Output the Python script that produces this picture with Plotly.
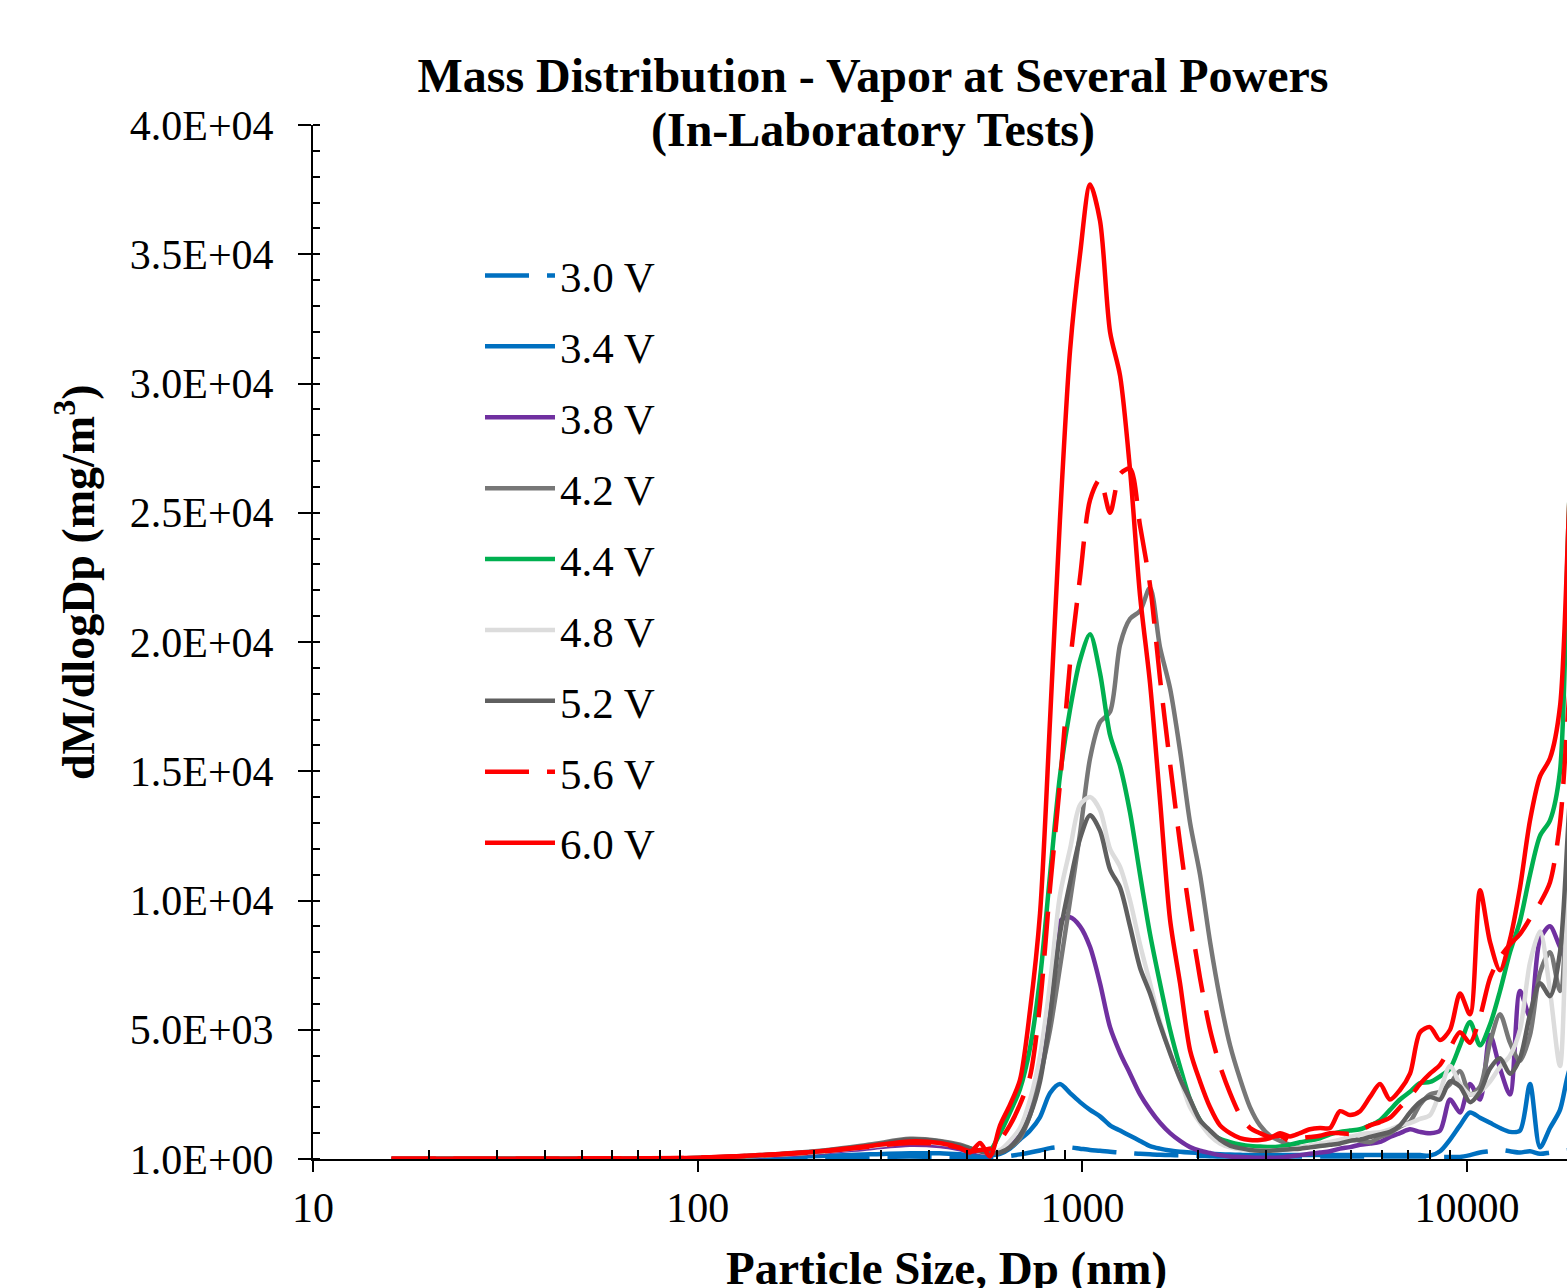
import plotly.graph_objects as go

# Particle diameter grid (nm)
diameter_nm = [16, 22.7, 34.5, 55.7, 100, 145, 208, 280, 356, 426, 481, 510, 542, 575,
               611, 648, 688, 731, 776, 824, 874, 929, 986, 1047,
               1111, 1180, 1253, 1330, 1412, 1499, 1591, 1690, 1794, 1905,
               2022, 2147, 2279, 2420, 2569, 2728, 2896, 3075, 3266, 3464,
               3678, 3905, 4146, 4401, 4673, 4961, 5268, 5593, 5937, 6304,
               6692, 7105, 7544, 8009, 8503, 9028, 9585, 10176, 10803, 11470,
               12177, 12928, 13725, 14572, 15470, 16424, 17437, 18512, 19655]

v30 = [2, 3, 5, 8, 15, 40, 60, 80, 100, 80, 60, 50, 40, 50,
       80, 120, 180, 250, 330, 420, 460, 450, 400, 350,
       320, 280, 250, 230, 200, 180, 160, 150, 140, 130,
       120, 110, 100, 100, 100, 100, 100, 100, 100, 100,
       100, 100, 100, 100, 100, 100, 100, 100, 100, 100,
       100, 100, 100, 90, 80, 80, 80, 150, 250, 300,
       350, 300, 250, 300, 200, 250, 300, 350, 400]

v34 = [2, 3, 5, 10, 20, 60, 120, 180, 220, 220, 180, 150, 130, 140,
       200, 400, 750, 1100, 1620, 2550, 2900, 2550, 2200, 1900,
       1650, 1300, 1100, 900, 700, 500, 400, 330, 280, 250,
       230, 200, 180, 170, 160, 150, 150, 150, 150, 150,
       150, 150, 150, 150, 150, 150, 150, 150, 150, 150,
       150, 150, 150, 130, 300, 750, 1300, 1800, 1600, 1400,
       1200, 1050, 1100, 2900, 450, 1200, 1900, 3500, 4000]

v38 = [3, 5, 8, 15, 30, 110, 240, 420, 550, 500, 380, 300, 250, 220,
       300, 500, 1000, 2000, 3700, 6000, 9200, 9350, 9000, 8200,
       6800, 5100, 4100, 3300, 2500, 1900, 1400, 1000, 700, 460,
       320, 230, 150, 100, 80, 60, 50, 50, 60, 100,
       150, 200, 250, 300, 400, 460, 550, 600, 660, 850,
       1000, 1150, 1050, 1000, 1100, 2300, 1800, 2900, 2300, 4800,
       3500, 2500, 6500, 5500, 8500, 9000, 8200, 7500, 7500]

v42 = [3, 5, 8, 15, 40, 150, 320, 560, 780, 700, 550, 420, 320, 260,
       300, 450, 800, 1700, 3200, 5000, 7400, 10000, 12600, 15500,
       16900, 17300, 19900, 20900, 21200, 22100, 19800, 18200, 15800, 13000,
       11000, 8400, 6200, 4400, 3100, 2000, 1300, 900, 700, 550,
       460, 500, 550, 620, 700, 850, 700, 650, 850, 1000,
       1250, 1450, 2100, 2500, 2600, 2900, 3400, 2500, 2800, 4500,
       5600, 4500, 3800, 4800, 7200, 8000, 6500, 12000, 15000]

v44 = [3, 5, 8, 15, 40, 130, 280, 500, 650, 620, 500, 400, 330, 330,
       1000, 1800, 2700, 4300, 7000, 11000, 14800, 17400, 19300, 20300,
       18800, 16400, 15200, 13400, 11000, 8700, 6800, 5000, 3560, 2300,
       1500, 1000, 780, 650, 560, 500, 480, 460, 480, 550,
       650, 720, 800, 950, 1050, 1100, 1150, 1300, 1500, 1900,
       2300, 2600, 2940, 2980, 3200, 3500, 4400, 5300, 4400, 5200,
       6500, 8000, 9200, 11000, 12500, 13100, 15000, 26000, 30000]

v48 = [3, 5, 8, 15, 40, 130, 280, 480, 650, 600, 480, 380, 280, 230,
       350, 700, 1200, 2300, 4000, 6800, 10200, 12000, 13700, 14000,
       13500, 12000, 11300, 10000, 8300, 6800, 5300, 4100, 3100, 2000,
       1400, 900, 600, 450, 380, 350, 330, 330, 350, 380,
       450, 520, 600, 660, 750, 850, 950, 1000, 1040, 1150,
       1300, 1390, 1550, 1700, 2600, 3600, 2900, 2500, 2600, 3000,
       3560, 4000, 5000, 7600, 8800, 6500, 3600, 12000, 14000]

v52 = [3, 5, 8, 15, 40, 140, 300, 520, 750, 680, 520, 400, 300, 230,
       250, 450, 900, 1700, 3000, 5500, 8700, 10700, 12400, 13300,
       12700, 11200, 10500, 9000, 7400, 6400, 5200, 4100, 3100, 2300,
       1500, 1100, 750, 520, 420, 350, 320, 320, 350, 380,
       400, 450, 500, 550, 600, 700, 750, 850, 950, 1050,
       1300, 1800, 2200, 2400, 2300, 3000, 2800, 2200, 2600, 3500,
       3900, 3300, 3900, 5600, 6800, 6300, 8000, 14000, 18000]

v56 = [5, 8, 10, 20, 50, 140, 280, 480, 620, 580, 420, 300, 350, 400,
       735, 1300, 2100, 3200, 6000, 10500, 14500, 19200, 22500, 25500,
       26300, 25000, 26500, 26700, 24500, 22200, 18600, 15300, 12200, 9400,
       7000, 5000, 3600, 2550, 1700, 1200, 1000, 850, 900, 700,
       800, 850, 900, 1000, 1000, 970, 1100, 1300, 1430, 1600,
       2000, 2400, 2900, 3300, 3640, 4300, 4900, 4500, 5500, 7000,
       7800, 8300, 8700, 9300, 9900, 10700, 13000, 18300, 22000]

v60 = [5, 8, 10, 20, 50, 150, 300, 500, 680, 620, 430, 250, 620, 100,
       1300, 2090, 3050, 5760, 9500, 17000, 24700, 31300, 35000, 37700,
       36300, 32000, 30300, 26650, 21800, 18400, 13900, 9250, 6800, 4200,
       3000, 2000, 1300, 1000, 810, 735, 735, 810, 1000, 870,
       1000, 1150, 1200, 1200, 1850, 1700, 1850, 2400, 2900, 2300,
       2670, 3300, 4900, 5100, 4600, 5000, 6400, 5600, 10400, 8400,
       7300, 8500, 10500, 13100, 14800, 15500, 17500, 26000, 32000]

series_names = ["3.0 V", "3.4 V", "3.8 V", "4.2 V", "4.4 V", "4.8 V", "5.2 V", "5.6 V", "6.0 V"]
series_values = [v30, v34, v38, v42, v44, v48, v52, v56, v60]
series_colors = ["#0070C0", "#0070C0", "#7030A0", "#777777", "#00B050", "#DCDCDC", "#5F5F5F", "#FF0000", "#FF0000"]
series_dash = ["44px,18px", "solid", "solid", "solid", "solid", "solid", "solid", "44px,18px", "solid"]

y_tickvals = [1, 5000, 10000, 15000, 20000, 25000, 30000, 35000, 40000]
y_ticktext = ["1.0E+00", "5.0E+03", "1.0E+04", "1.5E+04", "2.0E+04", "2.5E+04", "3.0E+04", "3.5E+04", "4.0E+04"]
x_tickvals = [10, 100, 1000, 10000]
x_ticktext = ["10", "100", "1000", "10000"]

FONT = "Liberation Serif, Times New Roman, serif"

FIG_W, FIG_H = 1567, 1288
ML, MT, PW, PH = 313, 125, 1254, 1034
X_RANGE = [1, 1 + PW / 384.7]
Y_RANGE = [0, 40000]

fig = go.Figure()
for i, (name, vals, col, dsh) in enumerate(zip(series_names, series_values, series_colors, series_dash)):
    fig.add_trace(go.Scatter(
        x=diameter_nm, y=vals, name=name, mode="lines",
        line=dict(color=col, width=4.5, dash=dsh, shape="spline", smoothing=0.8),
        legendgroup=f"g{i}",
    ))

minor_x = [m * d for d in (10, 100, 1000, 10000) for m in range(2, 10)]

fig.update_layout(
    width=FIG_W, height=FIG_H,
    margin=dict(l=ML, r=FIG_W - ML - PW, t=MT, b=FIG_H - MT - PH, autoexpand=False),
    paper_bgcolor="white", plot_bgcolor="white",
    font=dict(family=FONT, color="black", size=42),
    title=dict(
        text="<b>Mass Distribution - Vapor at Several Powers</b>",
        font=dict(family=FONT, size=48, color="black"),
        x=873 / FIG_W, xref="container", xanchor="center",
        y=1 - 75 / FIG_H, yref="container", yanchor="middle",
    ),
    showlegend=True,
    legend=dict(
        x=(480 - 313) / PW, y=(1159 - 241) / PH, xanchor="left", yanchor="top",
        font=dict(family=FONT, size=43, color="black"),
        bgcolor="rgba(0,0,0,0)", borderwidth=0,
        tracegroupgap=12, itemwidth=70, traceorder="grouped",
    ),
    xaxis=dict(
        type="log", range=X_RANGE, automargin=False,
        tickmode="array", tickvals=x_tickvals, ticktext=x_ticktext,
        ticks="outside", ticklen=11, tickwidth=2, tickcolor="black",
        showline=True, linewidth=2, linecolor="black",
        showgrid=False, zeroline=False,
        tickfont=dict(family=FONT, size=42, color="black"),
        ticklabelstandoff=0,
        minor=dict(tickmode="array", tickvals=minor_x, ticks="inside", ticklen=9,
                   tickwidth=1.5, tickcolor="black", showgrid=False),
    ),
    yaxis=dict(
        range=Y_RANGE, automargin=False,
        tickmode="array", tickvals=y_tickvals, ticktext=y_ticktext,
        ticks="outside", ticklen=13, tickwidth=2, tickcolor="black",
        showline=True, linewidth=2, linecolor="black",
        showgrid=False, zeroline=False,
        tickfont=dict(family=FONT, size=42, color="black"),
        ticklabelstandoff=16,
        minor=dict(tickmode="linear", tick0=0, dtick=1000, ticks="inside", ticklen=7,
                   tickwidth=1.5, tickcolor="black", showgrid=False),
    ),
    # overlay axes: inner half of the major ticks (major ticks cross the axis line)
    xaxis2=dict(
        type="log", range=X_RANGE, overlaying="x", anchor="y", side="bottom",
        tickmode="array", tickvals=x_tickvals, showticklabels=False,
        ticks="inside", ticklen=11, tickwidth=2, tickcolor="black",
        showline=False, showgrid=False, zeroline=False, automargin=False,
    ),
    yaxis2=dict(
        range=Y_RANGE, overlaying="y", anchor="x", side="left",
        tickmode="array", tickvals=y_tickvals, showticklabels=False,
        ticks="inside", ticklen=6, tickwidth=2, tickcolor="black",
        showline=False, showgrid=False, zeroline=False, automargin=False,
    ),
    annotations=[
        dict(
            text="<b>(In-Laboratory Tests)</b>",
            xref="paper", yref="paper", x=(873 - 313) / PW, y=1 - (130 - 125) / PH,
            xanchor="center", yanchor="middle", showarrow=False,
            font=dict(family=FONT, size=48, color="black"),
        ),
        dict(
            text="<b>dM/dlogDp (mg/m<sup>3</sup>)</b>", textangle=-90,
            xref="paper", yref="paper", x=(75 - 313) / PW, y=(1159 - 582) / PH,
            xanchor="center", yanchor="middle", showarrow=False,
            font=dict(family=FONT, size=46, color="black"),
        ),
        dict(
            text="<b>Particle Size, Dp (nm)</b>",
            xref="paper", yref="paper", x=(946 - 313) / PW, y=-(1268 - 1159) / PH,
            xanchor="center", yanchor="middle", showarrow=False,
            font=dict(family=FONT, size=47, color="black"),
        ),
    ],
)

fig.write_html(
    "out.html",
    config={"displayModeBar": False},
    post_script="document.body.style.margin='0px';document.body.style.overflow='hidden';",
)
